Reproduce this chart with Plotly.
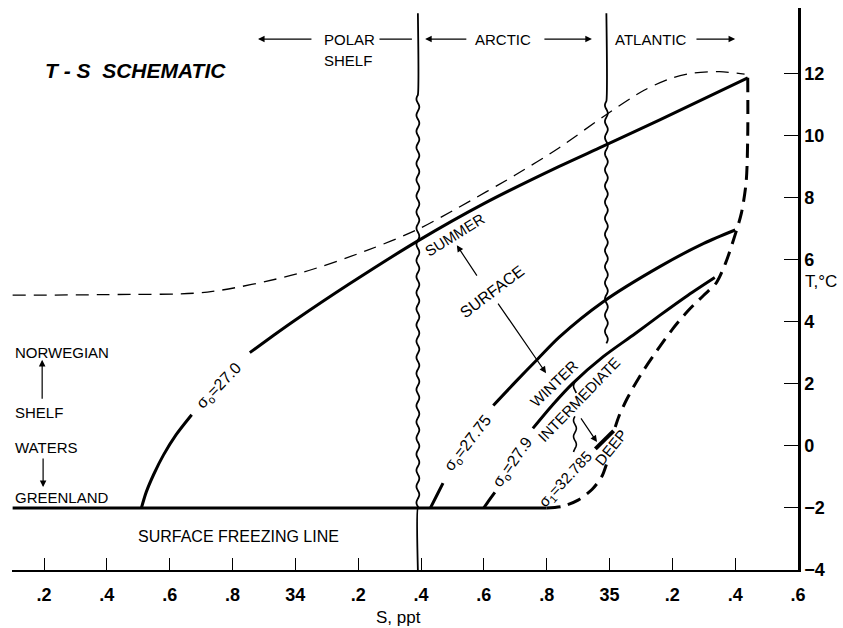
import numpy as np
import plotly.graph_objects as go

# ---------------- data (S in ppt, T in deg C) ----------------
# thin dashed upper envelope
env_S = [33.10, 33.40, 33.72, 34.01, 34.23, 34.39, 34.52, 34.70, 34.84, 34.98, 35.11, 35.20, 35.27, 35.35, 35.43]
env_T = [4.85, 4.87, 4.95, 5.55, 6.30, 6.97, 7.68, 8.72, 9.60, 10.60, 11.45, 11.85, 12.01, 12.05, 11.97]

# sigma0 = 27.0 -> summer surface (split around its label)
s270_S_a = [33.51, 33.525, 33.55, 33.58, 33.62, 33.67]
s270_T_a = [-2.0, -1.5, -0.9, -0.3, 0.35, 1.0]
s270_S_b = [33.855, 33.93, 34.00, 34.17, 34.39, 34.60, 34.84, 34.98, 35.16, 35.44]
s270_T_b = [3.0, 3.55, 4.05, 5.20, 6.60, 7.80, 9.00, 9.65, 10.50, 11.85]

# sigma0 = 27.75
s2775_S_a = [34.43, 34.45, 34.47]
s2775_T_a = [-2.0, -1.6, -1.2]
s2775_S_b = [34.63, 34.70, 34.77, 34.84, 34.98, 35.16, 35.30, 35.40]
s2775_T_b = [1.30, 2.05, 2.78, 3.50, 4.64, 5.77, 6.52, 6.95]

# sigma0 = 27.9
s279_S_a = [34.60, 34.617, 34.635]
s279_T_a = [-2.0, -1.75, -1.5]
s279_S_b = [34.756, 34.82, 34.883, 34.98, 35.08, 35.16, 35.25, 35.335]
s279_T_b = [0.56, 1.33, 2.01, 2.87, 3.60, 4.20, 4.85, 5.42]

# sigma1 = 32.785 (deep) short segment
deep_S = [34.955, 35.013]
deep_T = [-0.10, 0.48]

# surface freezing line
freeze_S = [33.10, 34.80]
freeze_T = [-2.0, -2.0]

# thick dashed lower envelope (split around the DEEP label)
lenv_S_a = [35.44, 35.44, 35.435, 35.42, 35.40, 35.37, 35.34, 35.30, 35.25, 35.20, 35.15, 35.10, 35.055, 35.03, 35.015]
lenv_T_a = [11.85, 10.0, 8.5, 7.5, 6.8, 5.9, 5.25, 4.85, 4.35, 3.75, 3.05, 2.30, 1.50, 0.95, 0.50]
lenv_S_b = [34.99, 34.975, 34.945, 34.90, 34.85, 34.80]
lenv_T_b = [-0.60, -1.00, -1.40, -1.75, -1.95, -2.00]

# water-mass boundaries
polar_S = 34.39
atlantic_S = 34.99
inter_S = 34.89

x_tickvals = [33.2, 33.4, 33.6, 33.8, 34.0, 34.2, 34.4, 34.6, 34.8, 35.0, 35.2, 35.4, 35.6]
x_ticktext = [".2", ".4", ".6", ".8", "34", ".2", ".4", ".6", ".8", "35", ".2", ".4", ".6"]
y_tickvals = [-4, -2, 0, 2, 4, 6, 8, 10, 12]
y_ticktext = ["\u22124", "\u22122", "0", "2", "4", "6", "8", "10", "12"]

FONT = "Liberation Sans, Arial, Helvetica, sans-serif"


def wavy(s0, t0, t1, amp=0.0045, period=0.52):
    n = max(2, int(abs(t1 - t0) / period * 14))
    t = np.linspace(t0, t1, n)
    s = s0 + amp * np.sin(2 * np.pi * (t - t0) / period)
    return list(s), list(t)


fig = go.Figure()


def line(xs, ys, width=3.0, dash="solid", shape="spline"):
    fig.add_trace(go.Scatter(x=xs, y=ys, mode="lines", hoverinfo="skip",
                             line=dict(color="black", width=width, dash=dash,
                                       shape=shape, smoothing=0.8),
                             showlegend=False))


# boundary lines
ws, wt = wavy(polar_S, 11.3, -2.0)
line([polar_S] + ws + [polar_S, polar_S], [13.93] + wt + [-2.0, -4.0], width=1.8, shape="spline")
ws, wt = wavy(atlantic_S, 11.1, 3.3)
line([atlantic_S] + ws, [13.93] + wt, width=1.8, shape="spline")
ws, wt = wavy(inter_S, 2.05, 1.70)
line(ws, wt, width=1.6, shape="spline")
ws, wt = wavy(inter_S, 0.95, -0.20)
line(ws, wt, width=1.6, shape="spline")

# curves
line(env_S, env_T, width=1.3, dash="13px,8px")
line(s270_S_a, s270_T_a)
line(s270_S_b, s270_T_b)
line(s2775_S_a, s2775_T_a)
line(s2775_S_b, s2775_T_b)
line(s279_S_a, s279_T_a)
line(s279_S_b, s279_T_b)
line(deep_S, deep_T, width=4, shape="linear")
line(freeze_S, freeze_T, width=3, shape="linear")
line(lenv_S_a, lenv_T_a, width=3, dash="14px,8px")
line(lenv_S_b, lenv_T_b, width=3, dash="14px,8px")

ann = []


def text(x, y, t, size=14, angle=0, xanchor="center", yanchor="middle", ref="data"):
    xr, yr = ("x", "y") if ref == "data" else ("paper", "paper")
    ann.append(dict(x=x, y=y, xref=xr, yref=yr, text=t, showarrow=False,
                    textangle=angle, xanchor=xanchor, yanchor=yanchor,
                    font=dict(family=FONT, size=size, color="black")))


def arrow(x0, y0, x1, y1, head=2, width=1.2):
    ann.append(dict(x=x1, y=y1, ax=x0, ay=y0, xref="x", yref="y", axref="x", ayref="y",
                    text="", showarrow=True, arrowhead=head, arrowsize=1.1,
                    arrowwidth=width, arrowcolor="black"))


# header
text(33.197, 12.10, "<b><i>T - S  SCHEMATIC</i></b>", size=21, xanchor="left")
text(34.085, 13.10, "POLAR", size=15, xanchor="left")
text(34.085, 12.42, "SHELF", size=15, xanchor="left")
arrow(34.056, 13.10, 33.881, 13.10)
arrow(34.263, 13.10, 34.371, 13.10, head=0)
text(34.565, 13.10, "ARCTIC", size=15, xanchor="left")
arrow(34.549, 13.10, 34.413, 13.10)
arrow(34.788, 13.10, 34.944, 13.10)
text(35.011, 13.10, "ATLANTIC", size=15, xanchor="left")
arrow(35.272, 13.10, 35.40, 13.10)

# left labels
text(33.101, 2.99, "NORWEGIAN", size=15, xanchor="left")
text(33.101, 1.06, "SHELF", size=15, xanchor="left")
text(33.101, -0.07, "WATERS", size=15, xanchor="left")
text(33.101, -1.65, "GREENLAND", size=15, xanchor="left")
arrow(33.194, 1.47, 33.194, 2.77)
arrow(33.197, -0.36, 33.197, -1.33)

text(33.819, -2.93, "SURFACE FREEZING LINE", size=16)

# curve labels
text(33.760, 1.93, "\u03c3<sub>o</sub>=27.0", size=16, angle=-46)
text(34.549, 0.09, "\u03c3<sub>o</sub>=27.75", size=16, angle=-52)
text(34.693, -0.55, "\u03c3<sub>o</sub>=27.9", size=16, angle=-55)
text(34.861, -1.09, "\u03c3<sub>1</sub>=32.785", size=15, angle=-47)
text(34.823, 2.02, "WINTER", size=15, angle=-44)
text(34.903, 1.48, "INTERMEDIATE", size=15, angle=-46)
text(35.005, -0.07, "DEEP", size=15, angle=-51)
text(34.508, 6.82, "SUMMER", size=15, angle=-32)
text(34.626, 4.98, "SURFACE", size=16, angle=-37)
arrow(34.581, 5.43, 34.514, 6.46)
arrow(34.642, 4.63, 34.798, 2.34)
arrow(34.906, 0.93, 34.960, 0.12)

# axis titles (outside the plotting area -> paper coordinates)
text(0.492, -0.085, "S, ppt", size=17, ref="paper")
text(1.0065, 0.5125, "T,\u00b0C", size=17, xanchor="left", ref="paper")

fig.update_layout(
    width=843, height=628, autosize=False,
    margin=dict(l=12, r=45, t=8, b=58),
    paper_bgcolor="white", plot_bgcolor="white",
    annotations=ann,
    xaxis=dict(range=[33.098, 35.6], showgrid=False, zeroline=False,
               showline=True, linecolor="black", linewidth=2,
               ticks="inside", ticklen=12, tickwidth=1.3, tickcolor="black",
               tickvals=x_tickvals, ticktext=x_ticktext, ticklabelstandoff=7,
               tickfont=dict(family=FONT, size=18, color="black", weight="bold")),
    yaxis=dict(range=[-4, 14.1], side="right", showgrid=False, zeroline=False,
               showline=True, linecolor="black", linewidth=2.5,
               ticks="inside", ticklen=14, tickwidth=1.3, tickcolor="black",
               tickvals=y_tickvals, ticktext=y_ticktext,
               tickfont=dict(family=FONT, size=18, color="black", weight="bold")),
)

fig.write_html("out.html")
